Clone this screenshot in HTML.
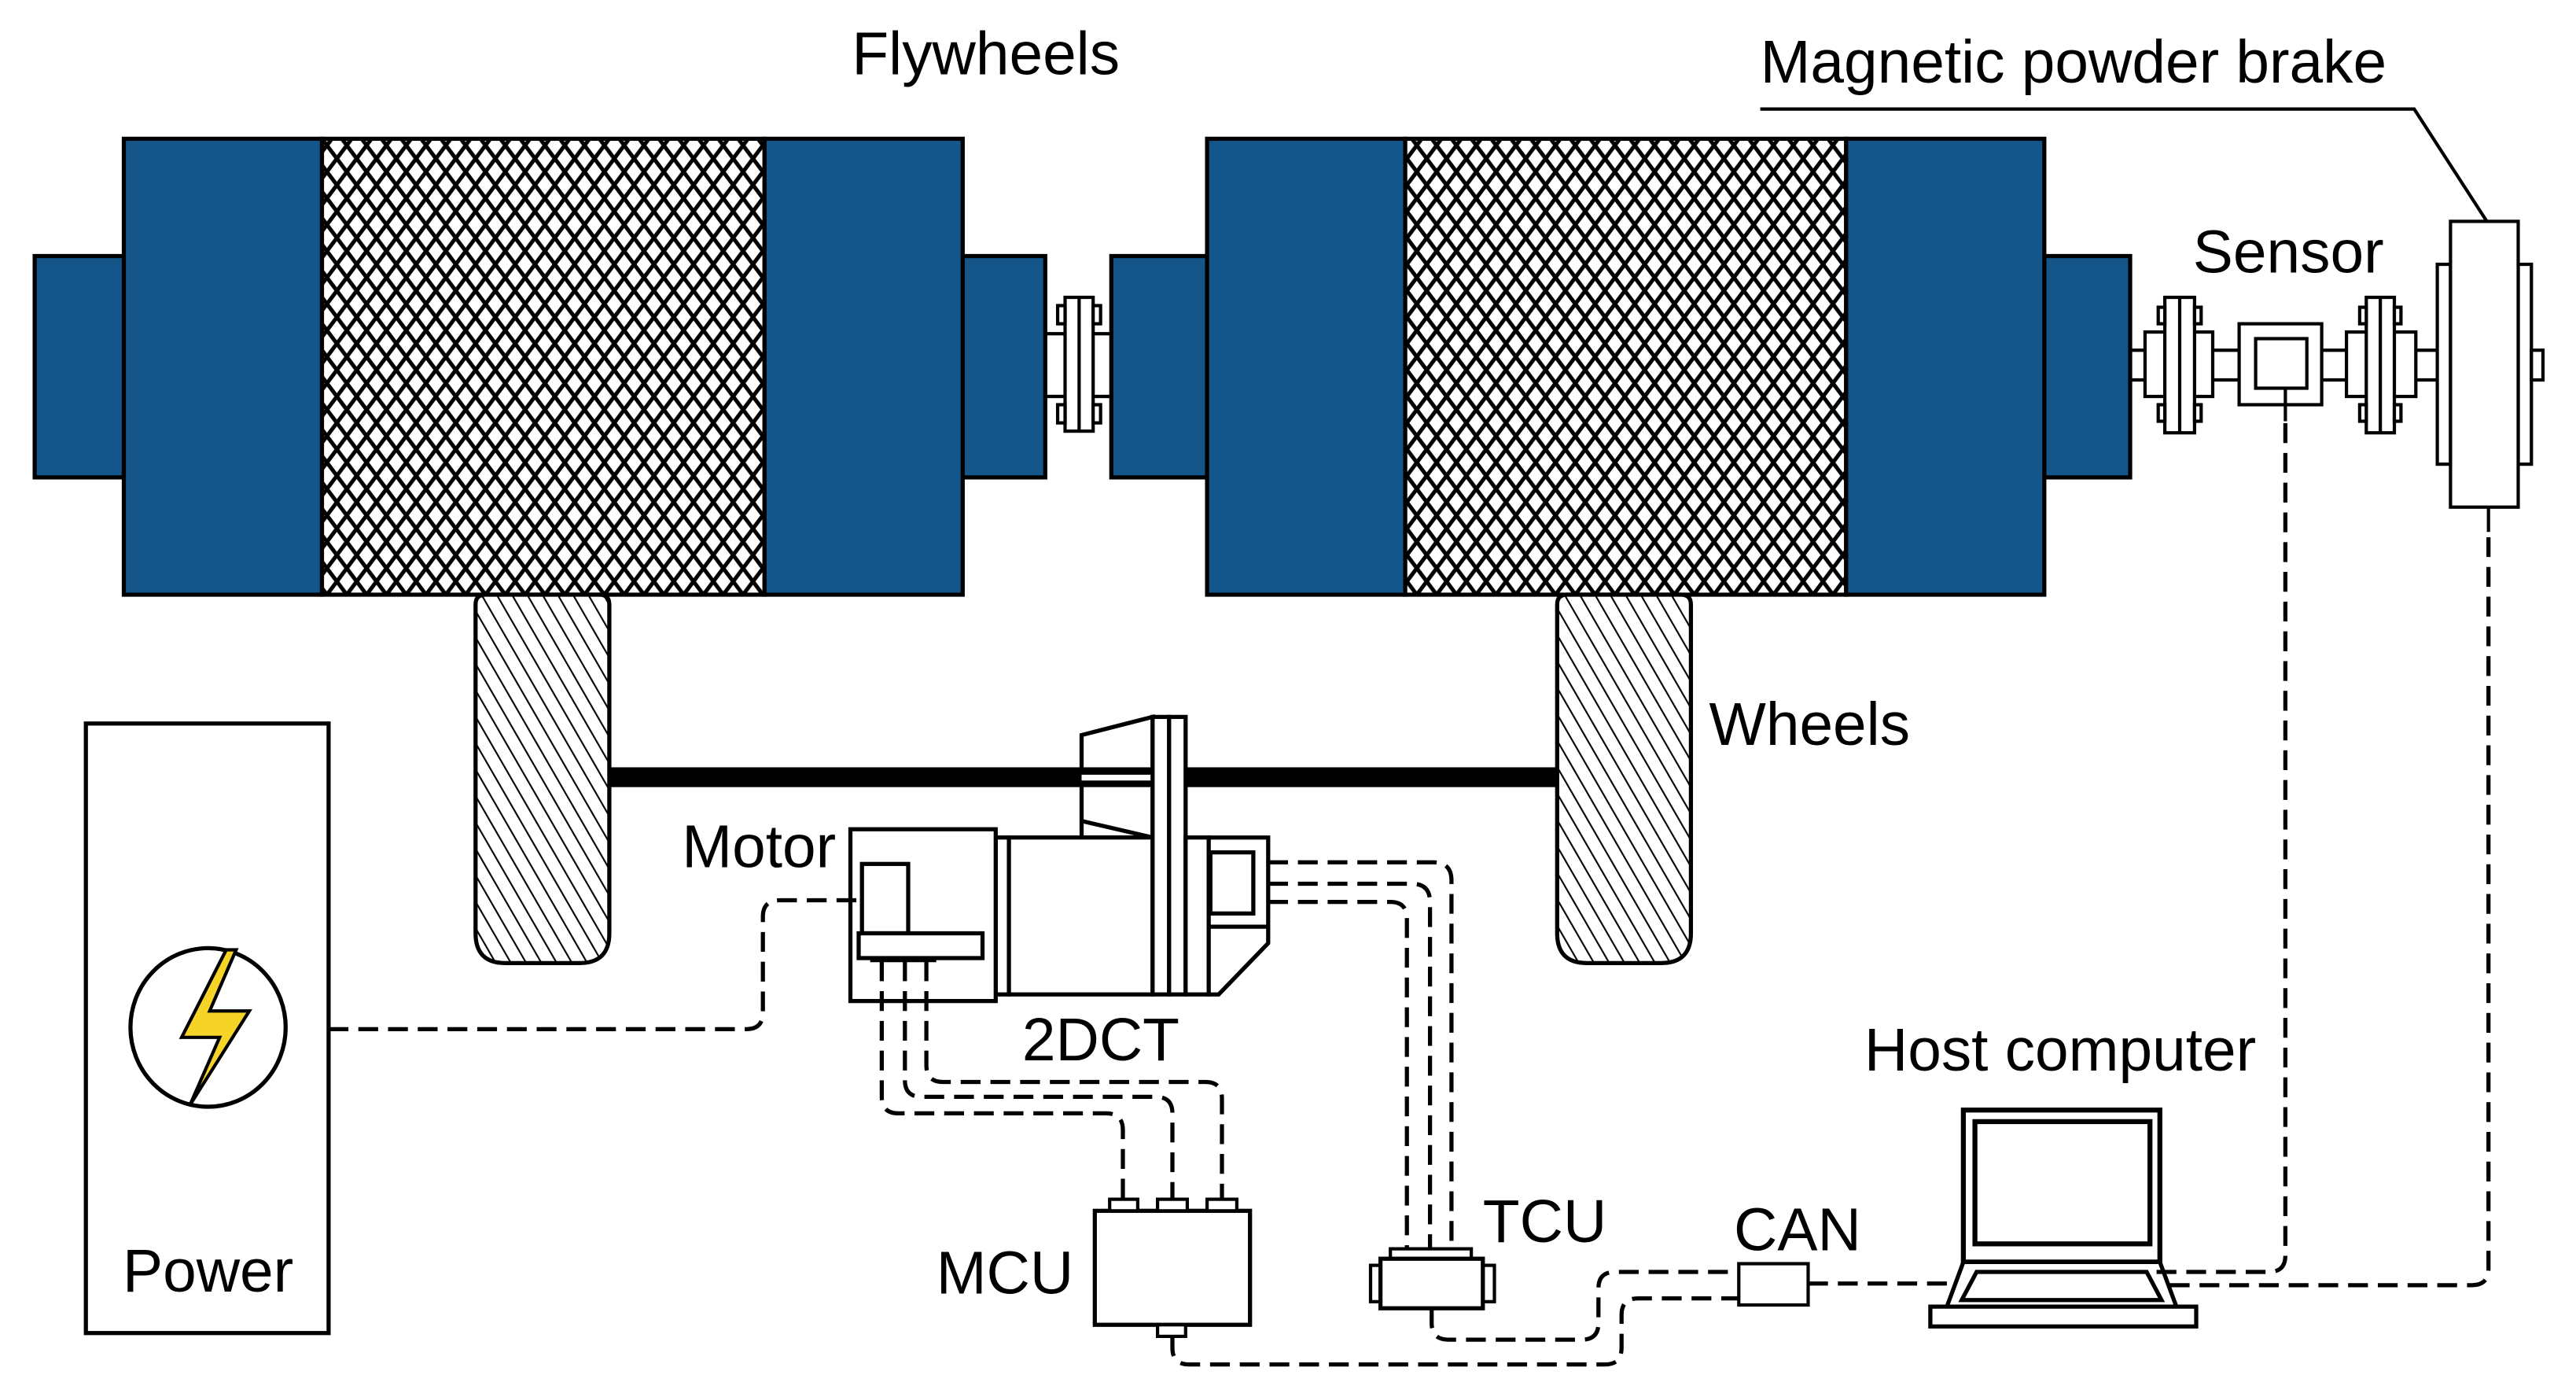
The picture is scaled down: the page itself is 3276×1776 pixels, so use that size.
<!DOCTYPE html>
<html><head><meta charset="utf-8"><style>
html,body{margin:0;padding:0;background:#fff;}
svg{display:block;}
text{font-family:"Liberation Sans",Arial,sans-serif;font-size:36.5px;fill:#000;}
</style></head><body>
<svg width="3276" height="1776" viewBox="0 0 1560 845.7" xmlns="http://www.w3.org/2000/svg">
<defs>
<pattern id="xh" width="12" height="16" patternUnits="userSpaceOnUse">
<rect width="12" height="16" fill="#fff"/>
<path d="M0 0 L12 16 M12 0 L0 16" stroke="#000" stroke-width="2.4" fill="none"/>
</pattern>
<pattern id="wh" width="8" height="8" patternUnits="userSpaceOnUse" patternTransform="rotate(-30)">
<rect width="8" height="8" fill="#fff"/>
<line x1="0" y1="0" x2="0" y2="8" stroke="#000" stroke-width="2"/>
</pattern>
</defs>
<g stroke="#000" stroke-width="2.5" fill="none">
<!-- Flywheel 1 -->
<rect x="21" y="155" width="54" height="134" fill="#14558a"/>
<rect x="583" y="155" width="50" height="134" fill="#14558a"/>
<rect x="75" y="84" width="120" height="276" fill="#14558a"/>
<rect x="195" y="84" width="268" height="276" fill="url(#xh)"/>
<rect x="463" y="84" width="120" height="276" fill="#14558a"/>
<!-- Flywheel 2 -->
<rect x="673" y="155" width="58" height="134" fill="#14558a"/>
<rect x="1238" y="155" width="52" height="134" fill="#14558a"/>
<rect x="731" y="84" width="120" height="276" fill="#14558a"/>
<rect x="851" y="84" width="267" height="276" fill="url(#xh)"/>
<rect x="1118" y="84" width="120" height="276" fill="#14558a"/>

<!-- coupling between flywheels -->
<g stroke-width="2">
<line x1="633" y1="202" x2="645" y2="202"/><line x1="633" y1="240" x2="645" y2="240"/>
<line x1="662" y1="202" x2="673" y2="202"/><line x1="662" y1="240" x2="673" y2="240"/>
<rect x="645" y="180" width="17" height="81" fill="#fff"/><line x1="653.5" y1="180" x2="653.5" y2="261"/>
<rect x="640.5" y="185" width="4.5" height="11" fill="#fff"/><rect x="640.5" y="245" width="4.5" height="11" fill="#fff"/>
<rect x="662" y="185" width="4.5" height="11" fill="#fff"/><rect x="662" y="245" width="4.5" height="11" fill="#fff"/>
</g>

<!-- Right shaft line: sensor, couplings, brake -->
<g stroke-width="2">
<line x1="1290" y1="212" x2="1476" y2="212"/><line x1="1290" y1="230" x2="1476" y2="230"/>
<rect x="1299" y="201" width="41" height="39" fill="#fff"/>
<rect x="1311" y="180" width="18" height="82" fill="#fff"/><line x1="1320" y1="180" x2="1320" y2="262"/>
<rect x="1307" y="186" width="4" height="10" fill="#fff"/><rect x="1307" y="245" width="4" height="10" fill="#fff"/>
<rect x="1329" y="186" width="4" height="10" fill="#fff"/><rect x="1329" y="245" width="4" height="10" fill="#fff"/>
<rect x="1421" y="201" width="42" height="39" fill="#fff"/>
<rect x="1433" y="180" width="17" height="82" fill="#fff"/><line x1="1441.5" y1="180" x2="1441.5" y2="262"/>
<rect x="1429" y="186" width="4" height="10" fill="#fff"/><rect x="1429" y="245" width="4" height="10" fill="#fff"/>
<rect x="1450" y="186" width="4" height="10" fill="#fff"/><rect x="1450" y="245" width="4" height="10" fill="#fff"/>
<rect x="1356" y="196" width="50" height="49" fill="#fff"/>
<rect x="1366" y="205" width="31" height="30" fill="#fff"/>
<line x1="1384" y1="235" x2="1384" y2="255"/>
<rect x="1476" y="160" width="8" height="121" fill="#fff"/>
<rect x="1525" y="160" width="8" height="121" fill="#fff"/>
<rect x="1533" y="212" width="7" height="18" fill="#fff"/>
<rect x="1484" y="134" width="41" height="173" fill="#fff"/>
<line x1="1507" y1="307" x2="1507" y2="322"/>
<polyline points="1506,134 1462,66 1066,66"/>
</g>

<!-- Wheels -->
<path d="M288 366 Q288 360 294 360 H363 Q369 360 369 366 V565 Q369 583 351 583 H306 Q288 583 288 565 Z" fill="url(#wh)"/>
<path d="M943 366 Q943 360 949 360 H1018 Q1024 360 1024 366 V565 Q1024 583 1006 583 H961 Q943 583 943 565 Z" fill="url(#wh)"/>
<rect x="369" y="464.5" width="574" height="12" fill="#000" stroke="none"/>

<!-- Gearbox 2DCT -->
<g stroke-width="2.5">
<polygon points="655,445 698,434 698,507 655,507" fill="#fff"/>
<line x1="655" y1="497" x2="698" y2="507"/>
<rect x="655" y="464.5" width="43" height="12" fill="#000" stroke="none"/>
<rect x="655" y="469" width="43" height="3.5" fill="#fff" stroke="none"/>
<rect x="603" y="507" width="8" height="95" fill="#fff"/>
<rect x="611" y="507" width="87" height="95" fill="#fff"/>
<rect x="698" y="434" width="10" height="168" fill="#fff"/>
<rect x="708" y="434" width="10" height="168" fill="#fff"/>
<rect x="718" y="507" width="14" height="95" fill="#fff"/>
<polygon points="732,507 768,507 768,571 738,602 732,602" fill="#fff"/>
<rect x="733" y="516" width="26" height="37" fill="#fff"/>
<line x1="732" y1="561" x2="768" y2="561"/>
<rect x="515" y="502" width="88" height="104" fill="#fff"/>
<rect x="522" y="523" width="28" height="42" fill="#fff"/>
<rect x="520" y="565" width="75" height="15" fill="#fff"/>
<line x1="527" y1="581" x2="567" y2="581" stroke-width="3"/>
</g>

<!-- Power -->
<rect x="52" y="438" width="147" height="369" fill="#fff"/>
<ellipse cx="126" cy="622" rx="47" ry="48" fill="#fff"/>
<polygon points="137,575 110,628 133,628 115,669 151,612 127,612 143,575" fill="#f5d327" stroke-width="2"/>

<!-- MCU -->
<rect x="663" y="733" width="94" height="69" fill="#fff"/>
<rect x="672" y="726" width="17" height="7" fill="#fff" stroke-width="2"/>
<rect x="701" y="726" width="18" height="7" fill="#fff" stroke-width="2"/>
<rect x="731" y="726" width="18" height="7" fill="#fff" stroke-width="2"/>
<rect x="701" y="802" width="17" height="7" fill="#fff" stroke-width="2"/>

<!-- TCU -->
<rect x="830" y="766" width="6" height="22" fill="#fff" stroke-width="2"/>
<rect x="898" y="766" width="7" height="22" fill="#fff" stroke-width="2"/>
<rect x="842" y="756" width="49" height="6" fill="#fff" stroke-width="2"/>
<rect x="836" y="762" width="62" height="30" fill="#fff"/>

<!-- CAN -->
<rect x="1053" y="765" width="42" height="25" fill="#fff" stroke-width="2"/>

<!-- Laptop -->
<rect x="1189" y="672" width="119" height="92" fill="#fff" stroke-width="3"/>
<rect x="1196" y="679" width="106" height="74" fill="#fff" stroke-width="3"/>
<polygon points="1189,764 1308,764 1318,791 1179,791" fill="#fff" stroke-width="2.5"/>
<polygon points="1197,770 1300,770 1309,787 1188,787" fill="#fff" stroke-width="2.5"/>
<rect x="1169" y="791" width="161" height="12" fill="#fff" stroke-width="2.5"/>

<!-- Dashed connections -->
<g stroke-width="2.5" stroke-dasharray="12 6">
<path d="M199 623 H452 Q462 623 462 613 V555 Q462 545 472 545 H522"/>
<path d="M534 582 V664 Q534 674 544 674 H670 Q680 674 680 684 V726"/>
<path d="M548 582 V654 Q548 664 558 664 H700 Q710 664 710 674 V726"/>
<path d="M561 582 V645 Q561 655 571 655 H730 Q740 655 740 665 V726"/>
<path d="M768 522 H868 Q879 522 879 533 V756"/>
<path d="M768 535 H855 Q866 535 866 546 V756"/>
<path d="M768 546 H842 Q852 546 852 556 V756"/>
<path d="M867 792 V801 Q867 811 877 811 H958 Q968 811 968 801 V780 Q968 770 978 770 H1053"/>
<path d="M710 809 V816 Q710 826 720 826 H972 Q982 826 982 816 V796 Q982 786 992 786 H1053"/>
<path d="M1095 777 H1183"/>
<path d="M1306 770 H1374 Q1384 770 1384 760 V255"/>
<path d="M1314 778 H1497 Q1507 778 1507 768 V322"/>
</g>
</g>

<!-- Labels -->
<text x="597" y="45" text-anchor="middle">Flywheels</text>
<text x="1066" y="50">Magnetic powder brake</text>
<text x="1328" y="165">Sensor</text>
<text x="1035" y="451">Wheels</text>
<text x="413" y="525">Motor</text>
<text x="619" y="642">2DCT</text>
<text x="1129" y="648">Host computer</text>
<text x="898" y="752">TCU</text>
<text x="1050" y="757">CAN</text>
<text x="567" y="783">MCU</text>
<text x="126" y="782" text-anchor="middle">Power</text>
</svg>
</body></html>
